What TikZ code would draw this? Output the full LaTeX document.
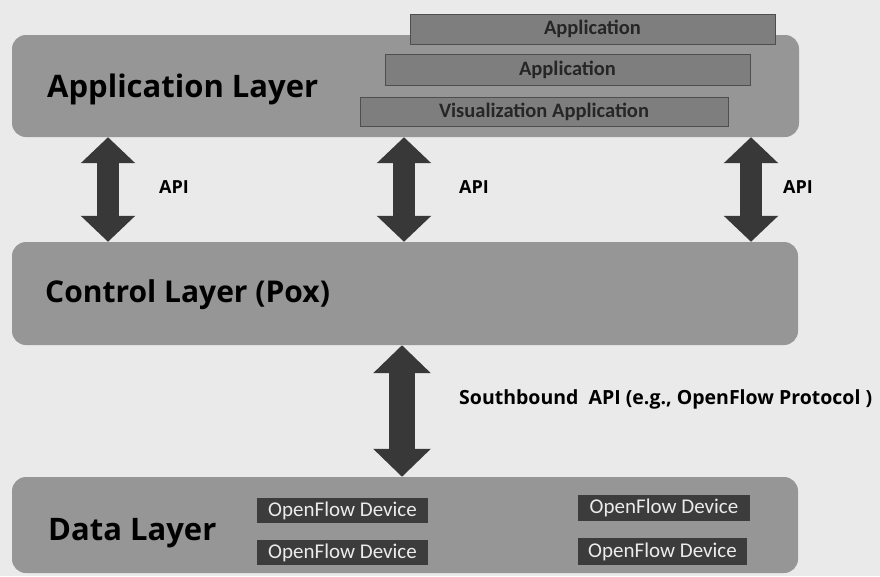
\documentclass[tikz,border=0pt]{standalone}
\usepackage{fontspec}
\setmainfont{Open Sans}
\newfontfamily\calib{Carlito}
\usetikzlibrary{arrows.meta}
\definecolor{bgc}{HTML}{EAEAEA}
\definecolor{layerc}{HTML}{969696}
\definecolor{appc}{HTML}{7E7E7E}
\definecolor{appb}{HTML}{4E4E4E}
\definecolor{devc}{HTML}{3C3C3C}
\definecolor{arrc}{HTML}{383838}
\tikzset{
  layer/.style={fill=layerc, draw=none, rounded corners=14pt, inner sep=0pt},
  appbox/.style={fill=appc, draw=appb, line width=1pt, inner sep=0pt,
    font=\calib\bfseries\fontsize{20.5}{22}\selectfont, text=black!85},
  devbox/.style={fill=devc, draw=none, inner sep=0pt,
    font=\calib\fontsize{21}{23}\selectfont, text=white!92!black},
  laylabel/.style={anchor=base west, inner sep=0pt, font=\bfseries\fontsize{31}{35}\selectfont},
  apilabel/.style={anchor=west, inner sep=0pt, font=\bfseries\fontsize{18}{20}\selectfont},
  bigarrow/.style={draw=arrc, line width=22pt,
    {Triangle[length=26pt,width=53pt]}-{Triangle[length=26pt,width=53pt]}},
  sbarrow/.style={draw=arrc, line width=26pt,
    {Triangle[length=28pt,width=56pt]}-{Triangle[length=28pt,width=56pt]}}
}
\begin{document}
\begin{tikzpicture}[x=1pt,y=-1pt]
\fill[bgc] (0,0) rectangle (880,576);
\useasboundingbox (0,0) rectangle (880,576);

% layers
\node (app)  [layer, minimum width=787pt, minimum height=102pt] at (405.5,86) {};
\node (ctrl) [layer, minimum width=786pt, minimum height=103pt] at (405,293.5) {};
\node (data) [layer, minimum width=786pt, minimum height=96pt] at (405,525) {};

% layer labels
\node (appl)  [laylabel] at (47,97) {Application Layer};
\node (ctrll) [laylabel, font=\bfseries\fontsize{30}{34}\selectfont] at (45,302) {Control Layer (Pox)};
\node (datal) [laylabel] at (48,540) {Data Layer};

% application boxes
\node (a1) [appbox, minimum width=365pt, minimum height=30pt] at (592.5,29) {Application};
\node (a2) [appbox, minimum width=365pt, minimum height=31pt] at (567.5,69.5) {Application};
\node (a3) [appbox, minimum width=368pt, minimum height=29pt] at (544,111.5) {Visualization Application};

% devices
\node (d1) [devbox, minimum width=171pt, minimum height=25pt] at (342.5,510.5) {OpenFlow Device};
\node (d2) [devbox, minimum width=171pt, minimum height=25pt] at (342.5,552.5) {OpenFlow Device};
\node (d3) [devbox, minimum width=172pt, minimum height=26pt] at (664,508) {OpenFlow Device};
\node (d4) [devbox, minimum width=169pt, minimum height=27pt] at (662.5,551.5) {OpenFlow Device};

% arrow x positions
\coordinate (xl) at (108,0);
\coordinate (xm) at (404,0);
\coordinate (xr) at (751,0);
\coordinate (xs) at (402,0);

\draw[bigarrow] (app.south -| xl) -- (ctrl.north -| xl);
\draw[bigarrow] (app.south -| xm) -- (ctrl.north -| xm);
\draw[bigarrow] (app.south -| xr) -- (ctrl.north -| xr);
\draw[sbarrow] (ctrl.south -| xs) -- (data.north -| xs);

% labels
\node (api1) [apilabel] at (159,187) {API};
\node (api2) [apilabel] at (459,187) {API};
\node (api3) [apilabel] at (783,187) {API};
\node (sb) [apilabel, font=\bfseries\fontsize{19.5}{22}\selectfont] at (459,399) {Southbound~~API (e.g., OpenFlow Protocol )};
\end{tikzpicture}
\end{document}
